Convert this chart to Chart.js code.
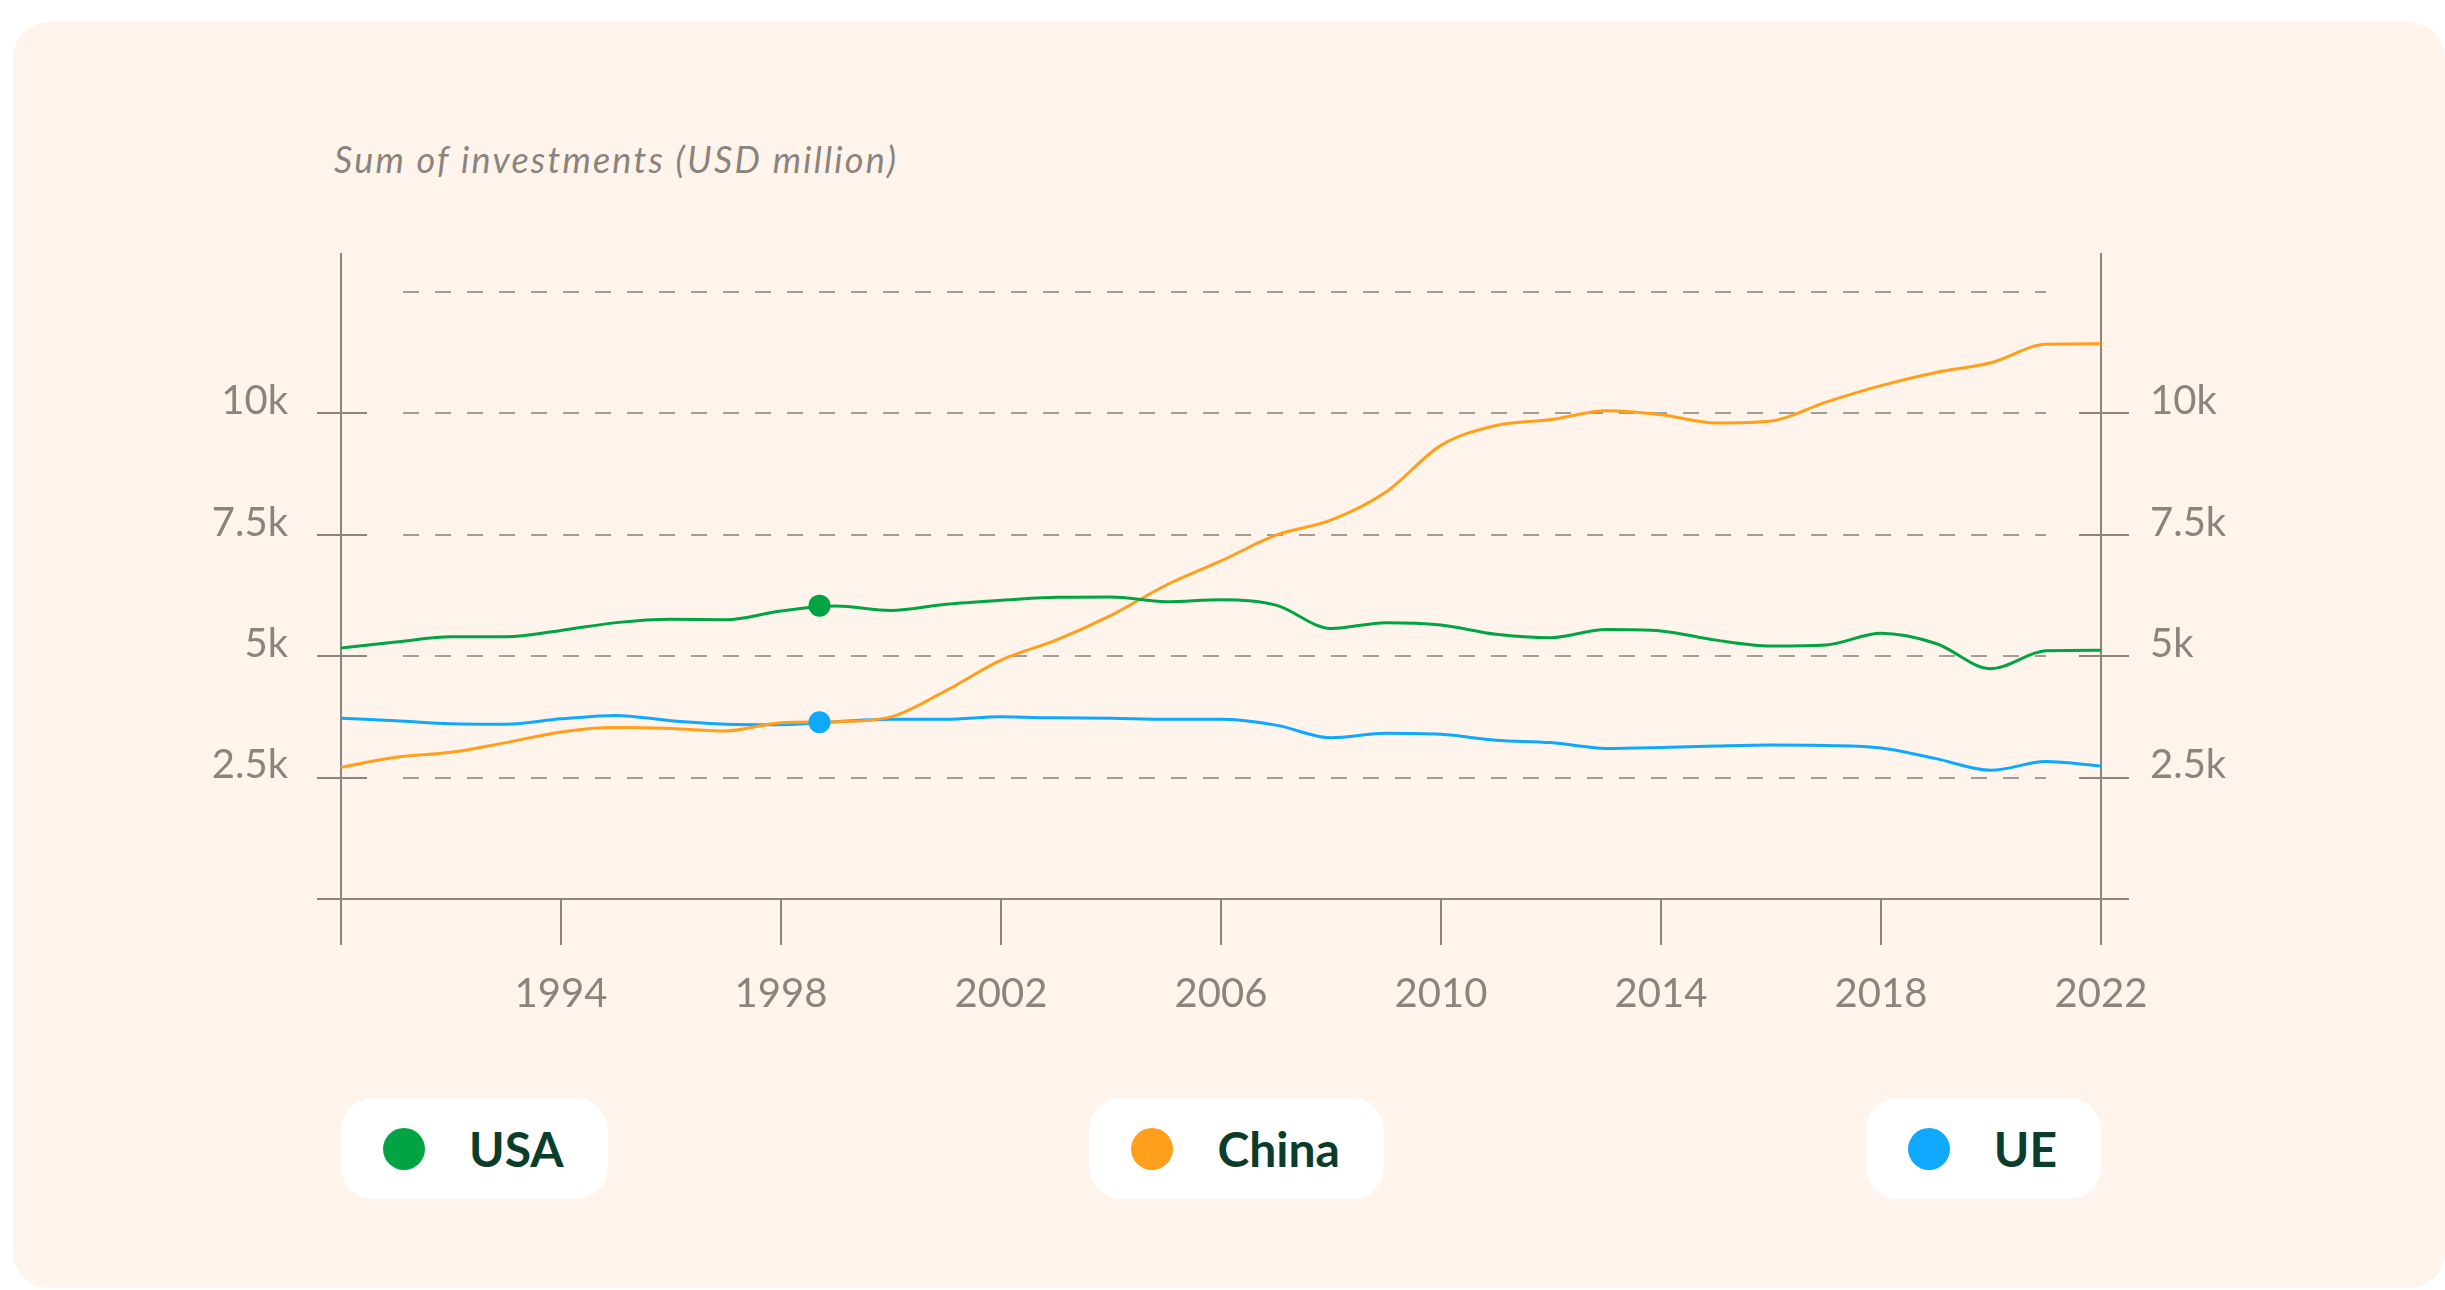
<!DOCTYPE html>
<html lang="en">
<head>
<meta charset="UTF-8">
<title>Sum of investments</title>
<script src="https://cdn.jsdelivr.net/npm/chart.js"></script>
<style>
  html, body { margin: 0; padding: 0; background: #ffffff; }
  body { width: 2445px; height: 1290px; position: relative; overflow: hidden; font-family: Lato, "Open Sans", sans-serif; }
  #card { position: absolute; left: 13px; top: 22px; width: 2432px; height: 1266px; background: #fef4eb; border-radius: 36px; }
  #chart_box { position: absolute; left: 0; top: 0; width: 2445px; height: 1060px; }
  #title { position: absolute; left: 334px; top: 141px; font-size: 36px; line-height: 36px; letter-spacing: 2.2px; font-style: italic; color: #8a847d; }
  #legend { position: absolute; left: 341px; top: 1098px; width: 1760px; display: flex; justify-content: space-between; }
  .pill { height: 101px; background: #ffffff; border-radius: 32px; display: flex; align-items: center; padding: 0 44px 0 42px; box-sizing: border-box; }
  .pill .dot { width: 42px; height: 42px; border-radius: 50%; margin-right: 44px; }
  .pill span { font-size: 48px; font-weight: 700; color: #0b3d2b; }
</style>
</head>
<body>
<div id="card"></div>
<div id="title">Sum of investments (USD million)</div>
<div id="chart_box"><canvas id="myChart"></canvas></div>
<div id="legend"></div>

<script>
// values in thousands of USD million
const years = [1990, 1991, 1992, 1993, 1994, 1995, 1996, 1997, 1998, 1999, 2000, 2001, 2002, 2003, 2004, 2005,
               2006, 2007, 2008, 2009, 2010, 2011, 2012, 2013, 2014, 2015, 2016, 2017, 2018, 2019, 2020, 2021, 2022];
const usa = [5.17, 5.29, 5.40, 5.40, 5.53, 5.69, 5.76, 5.75, 5.93, 6.03, 5.94, 6.07, 6.15, 6.21, 6.22, 6.12,
             6.16, 6.05, 5.57, 5.69, 5.64, 5.45, 5.38, 5.55, 5.52, 5.33, 5.21, 5.23, 5.47, 5.26, 4.74, 5.11, 5.12];
const china = [2.71, 2.92, 3.02, 3.22, 3.44, 3.53, 3.51, 3.46, 3.63, 3.65, 3.75, 4.29, 4.92, 5.33, 5.84, 6.46,
               6.96, 7.49, 7.80, 8.38, 9.34, 9.75, 9.87, 10.05, 9.97, 9.80, 9.84, 10.23, 10.57, 10.84, 11.04, 11.42, 11.43];
const ue = [3.72, 3.67, 3.61, 3.60, 3.71, 3.78, 3.67, 3.60, 3.59, 3.65, 3.70, 3.70, 3.75, 3.73, 3.72, 3.70,
            3.70, 3.58, 3.32, 3.41, 3.39, 3.27, 3.22, 3.10, 3.12, 3.15, 3.17, 3.16, 3.11, 2.89, 2.65, 2.83, 2.74];

const seriesNames = ['USA', 'China', 'UE'];
const seriesColors = ['#00a443', '#ff9f1c', '#0ea8ff'];

// highlighted points
const markerYear = 1998.7;
const markerUsa = 6.04;
const markerUe = 3.64;

const xTickYears = [1994, 1998, 2002, 2006, 2010, 2014, 2018, 2022];
const yTickValues = [2.5, 5, 7.5, 10];
const yTickLabels = ['2.5k', '5k', '7.5k', '10k'];
const gridValues = [2.5, 5, 7.5, 10, 12.5];

const axisColor = '#8c857e';
const gridColor = '#a39c95';
const textColor = '#8a847d';

const toPoints = (arr) => arr.map((v, i) => ({ x: years[i], y: v }));

// axes, crossing ticks and dashed grid drawn through the scales
const frame = {
    id: 'frame',
    beforeDatasetsDraw(chart) {
        const { ctx, chartArea: a, scales } = chart;
        const x = scales.x, y = scales.y;
        const ln = (x1, y1, x2, y2) => { ctx.beginPath(); ctx.moveTo(x1, y1); ctx.lineTo(x2, y2); ctx.stroke(); };
        ctx.save();
        ctx.lineWidth = 2;
        ctx.strokeStyle = gridColor;
        ctx.setLineDash([16, 16]);
        gridValues.forEach(v => {
            const py = Math.round(y.getPixelForValue(v));
            ln(a.left + 62, py, a.right - 55, py);
        });
        ctx.setLineDash([]);
        ctx.strokeStyle = axisColor;
        const bottom = Math.round(y.getPixelForValue(0));
        ln(a.left - 24, bottom, a.right + 28, bottom);
        ln(a.left, a.top, a.left, bottom + 46);
        ln(a.right, a.top, a.right, bottom + 46);
        yTickValues.forEach(v => {
            const py = Math.round(y.getPixelForValue(v));
            ln(a.left - 24, py, a.left + 26, py);
            ln(a.right - 22, py, a.right + 28, py);
        });
        xTickYears.forEach(v => {
            const px = Math.round(x.getPixelForValue(v));
            ln(px, bottom, px, bottom + 46);
        });
        ctx.restore();
    }
};

const yTicks = {
    color: textColor,
    font: { family: 'Lato', size: 40 },
    padding: 45,
    labelOffset: -12,
    callback: (v) => yTickLabels[yTickValues.indexOf(v)]
};

const lineSets = [usa, china, ue].map((arr, i) => ({
    label: seriesNames[i],
    data: toPoints(arr),
    borderColor: seriesColors[i],
    borderWidth: 3,
    pointRadius: 0,
    cubicInterpolationMode: 'monotone',
    fill: false
}));

const markerSets = [
    { label: 'usa_marker', data: [{ x: markerYear, y: markerUsa }], showLine: false, pointRadius: 11,
      pointBackgroundColor: seriesColors[0], pointBorderWidth: 0 },
    { label: 'ue_marker', data: [{ x: markerYear, y: markerUe }], showLine: false, pointRadius: 11,
      pointBackgroundColor: seriesColors[2], pointBorderWidth: 0 }
];

const chart = new Chart(document.getElementById('myChart'), {
    type: 'line',
    data: { datasets: [...markerSets, ...lineSets] },
    options: {
        responsive: true,
        maintainAspectRatio: false,
        animation: false,
        events: [],
        layout: { padding: { top: 253, left: 0, right: 0, bottom: 0 } },
        plugins: { legend: { display: false }, tooltip: { enabled: false } },
        scales: {
            x: {
                type: 'linear',
                min: 1990,
                max: 2022,
                grid: { display: false },
                border: { display: false },
                afterBuildTicks: (s) => { s.ticks = xTickYears.map(v => ({ value: v })); },
                afterFit: (s) => { s.height = 161; },
                ticks: {
                    color: textColor,
                    font: { family: 'Lato', size: 40 },
                    padding: 63,
                    maxRotation: 0,
                    callback: (v) => String(v)
                }
            },
            y: {
                position: 'left',
                min: 0,
                max: 13.3,
                grid: { display: false },
                border: { display: false },
                afterBuildTicks: (s) => { s.ticks = yTickValues.map(v => ({ value: v })); },
                afterFit: (s) => { s.width = 341; },
                ticks: yTicks
            },
            y2: {
                position: 'right',
                min: 0,
                max: 13.3,
                grid: { display: false },
                border: { display: false },
                afterBuildTicks: (s) => { s.ticks = yTickValues.map(v => ({ value: v })); },
                afterFit: (s) => { s.width = 344; },
                ticks: { ...yTicks, padding: 41 }
            }
        }
    },
    plugins: [frame]
});

// legend pills built from the line datasets
const legend = document.getElementById('legend');
lineSets.forEach(ds => {
    const pill = document.createElement('div');
    pill.className = 'pill';
    const dot = document.createElement('div');
    dot.className = 'dot';
    dot.style.background = ds.borderColor;
    const txt = document.createElement('span');
    txt.textContent = ds.label;
    pill.appendChild(dot);
    pill.appendChild(txt);
    legend.appendChild(pill);
});
</script>
</body>
</html>
